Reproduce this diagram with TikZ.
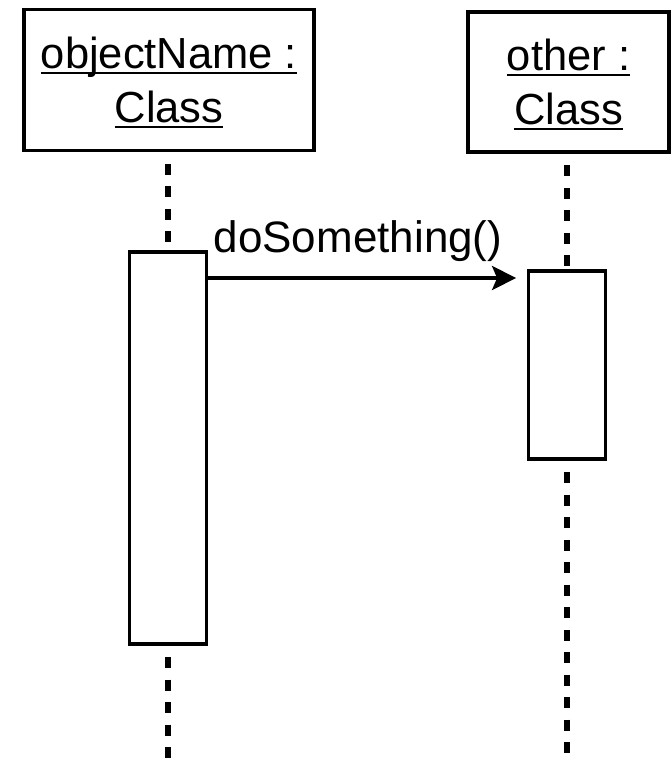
\documentclass[tikz,border=0pt]{standalone}
\usepackage{fontspec}
\setmainfont{Liberation Sans}
\usetikzlibrary{arrows.meta}
\newcommand{\myul}[1]{\setbox0=\hbox{#1}\rlap{\rule[-0.13em]{\wd0}{0.05em}}\box0}
\tikzset{
  hdr/.style={draw, line width=3.8pt, fill=white, align=center, inner sep=0pt,
    font=\fontsize{43.5}{54}\selectfont},
  actbox/.style={draw, line width=3.3pt, fill=white, minimum width=76.5pt, inner sep=0pt},
  lifeline/.style={line width=6pt, dash pattern=on 11pt off 11.5pt, dash phase=11pt},
  msg/.style={line width=4pt, -{Stealth[length=24pt, width=24pt, inset=5pt]}},
  lbl/.style={font=\fontsize{44}{50}\selectfont, inner sep=0pt}
}
\begin{document}
\begin{tikzpicture}[x=1pt, y=-1pt]
\useasboundingbox (0,0) rectangle (672,761);
\node[hdr, minimum width=290pt, minimum height=141pt] (objA) at (169,80) {\rule{0pt}{36pt}\myul{objectName :}\\\myul{Class}};
\node[hdr, minimum width=201pt, minimum height=140pt] (objB) at (568.5,82) {\rule{0pt}{36pt}\myul{other :}\\\myul{Class}};
\coordinate (endA) at (168,761);
\coordinate (endB) at (567,761);
\node[actbox, minimum height=392pt] (actA) at (168,448) {};
\node[actbox, minimum height=188pt] (actB) at (567,365) {};
\draw[lifeline] (objA.south -| actA.center) -- (actA.north);
\draw[lifeline] (actA.south) -- (endA);
\draw[lifeline] (objB.south -| actB.center) -- (actB.north);
\draw[lifeline] (actB.south) -- (endB);
\node[actbox, minimum height=392pt] (actAtop) at (actA) {};
\node[actbox, minimum height=188pt] (actBtop) at (actB) {};
\draw[msg, shorten >=11pt] (actAtop.east |- 0,278) -- (actBtop.west |- 0,278);
\node[lbl, anchor=base] (msgl) at (358,252) {doSomething()};
\end{tikzpicture}
\end{document}
